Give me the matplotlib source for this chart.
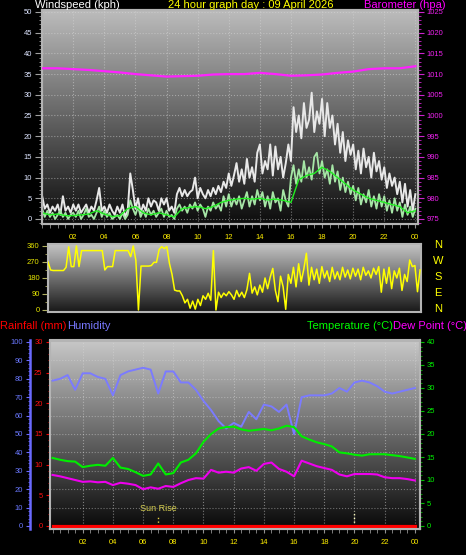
import numpy as np
import matplotlib
matplotlib.use("Agg")
from matplotlib import pyplot as plt
from matplotlib.colors import LinearSegmentedColormap
from matplotlib.ticker import MultipleLocator

plt.rcParams["font.family"] = ["Liberation Sans", "DejaVu Sans"]

# ---- data ----
# wind, every 10 minutes from 00:00 to 24:00
wind_gust = [5.5, 2.5, 3.5, 1.5, 3.0, 2.0, 3.5, 1.0, 5.5, 2.0, 3.0, 1.5,
             3.5, 2.0, 3.5, 1.5, 2.5, 3.5, 1.5, 3.0, 2.0, 4.5, 7.5, 2.0,
             3.0, 1.5, 3.5, 2.0, 1.0, 3.0, 1.5, 3.5, 0.5, 2.0, 11.0, 7.0,
             2.5, 5.0, 1.5, 3.5, 2.0, 5.0, 3.0, 4.5, 4.0, 2.0, 5.0, 3.5,
             5.0, 2.0, 3.0, 1.5, 6.0, 7.5, 5.5, 7.0, 5.5, 6.5, 7.0, 10.0,
             5.0, 7.5, 6.0, 5.0, 7.0, 5.5, 7.5, 6.0, 8.0, 6.5, 9.0, 7.5,
             11.0, 8.0, 10.5, 13.5, 9.0, 12.0, 8.5, 14.5, 10.0, 12.5, 9.0, 16.0,
             18.0, 11.0, 14.0, 12.0, 18.0, 10.5, 17.5, 12.0, 15.0, 10.0, 13.5, 18.0,
             14.0, 27.0, 21.0, 25.0, 19.5, 28.0, 22.0, 24.0, 30.5, 21.0, 26.0, 23.0,
             29.0, 20.0, 28.0, 22.0, 25.0, 18.0, 23.0, 16.0, 21.0, 14.0, 19.0, 15.5,
             18.0, 12.0, 16.5, 11.0, 17.0, 12.5, 15.0, 10.0, 16.0, 11.5, 14.0, 9.5,
             12.5, 7.5, 11.0, 8.0, 10.0, 6.0, 9.0, 4.0, 8.5, 3.0, 7.0, 2.0, 6.0]

wind_avg = [2.5, 0.5, 2.0, 0.5, 1.5, 0.0, 1.0, 2.0, 0.5, 1.5, 0.0, 1.0,
            1.5, 0.5, 2.0, 0.0, 1.0, 2.5, 0.5, 1.0, 0.0, 1.5, 3.0, 0.5,
            2.0, 0.5, 1.5, 0.0, 0.5, 1.0, 0.0, 1.5, 0.0, 1.0, 4.5, 2.5,
            1.0, 3.0, 0.5, 2.0, 0.5, 2.5, 1.0, 2.0, 0.5, 1.5, 2.5, 0.5,
            2.0, 0.5, 1.0, 0.0, 2.5, 3.5, 2.0, 3.0, 1.5, 3.5, 2.5, 4.0,
            2.0, 3.5, 2.5, 0.5, 3.0, 2.0, 4.0, 2.5, 3.5, 2.0, 5.5, 3.0,
            6.0, 3.0, 5.0, 3.5, 5.5, 2.5, 4.5, 6.5, 3.0, 5.5, 3.5, 7.0,
            4.5, 6.5, 3.0, 5.5, 2.5, 6.5, 4.0, 5.0, 2.0, 7.0, 4.5, 3.0,
            10.0, 13.0, 8.5, 12.0, 9.0, 14.0, 10.0, 12.5, 9.5, 15.0, 16.0, 11.0,
            14.0, 10.0, 12.0, 8.5, 13.0, 9.0, 11.5, 7.0, 10.0, 6.5, 9.0, 6.0,
            8.0, 4.5, 7.5, 3.5, 6.0, 4.0, 7.0, 3.0, 5.5, 2.5, 6.0, 3.0,
            5.5, 2.0, 4.5, 1.5, 5.0, 2.0, 4.0, 0.5, 3.5, 1.0, 3.0, 0.5, 2.5]

wind_dir = [270, 225, 222, 222, 222, 222, 222, 240, 355, 244, 244, 360,
            244, 334, 334, 334, 334, 334, 334, 334, 334, 334, 225, 244,
            244, 244, 334, 334, 334, 334, 334, 334, 300, 360, 280, 0,
            247, 247, 247, 247, 250, 268, 268, 340, 356, 345, 356, 262,
            200, 112, 107, 107, 80, 40, 60, 10, 50, 5, 60, 25,
            80, 60, 94, 55, 334, 0, 100, 70, 95, 80, 103, 85,
            60, 110, 75, 100, 70, 115, 206, 95, 130, 85, 140, 100,
            180, 120, 185, 234, 110, 47, 190, 130, 4, 200, 150, 240,
            130, 260, 160, 230, 319, 140, 240, 170, 230, 150, 244, 180,
            220, 160, 240, 175, 215, 170, 240, 185, 225, 175, 235, 190,
            230, 170, 240, 195, 220, 180, 235, 200, 244, 100, 230, 150,
            240, 120, 220, 180, 235, 110, 200, 160, 281, 244, 250, 103, 225]

# wind trend, every 30 minutes
wind_trend = [1.5, 1.0, 1.2, 0.8, 0.8, 1.0, 1.2, 2.0, 1.2, 0.6, 0.8, 2.5,
              3.0, 1.5, 1.0, 1.5, 1.0, 0.5, 2.5, 2.8, 3.0, 2.5, 3.0, 4.0,
              4.5, 4.8, 5.0, 4.8, 5.0, 4.6, 4.8, 4.5, 4.0, 9.5, 10.5, 11.0,
              12.5, 11.5, 10.0, 8.5, 7.0, 6.0, 5.0, 4.5, 4.0, 3.5, 3.0, 1.5, 2.0]

# barometer, hourly
pressure = [1011.4, 1011.4, 1011.2, 1011.0, 1010.7, 1010.4, 1010.0, 1009.7, 1009.4,
            1009.5, 1009.6, 1009.9, 1010.0, 1010.0, 1010.3, 1010.0, 1009.6, 1009.7,
            1009.9, 1010.3, 1010.6, 1011.2, 1011.4, 1011.4, 1011.9]

# every 30 minutes
humidity = [79, 80, 82, 74, 83, 83, 81, 80, 71, 82, 84, 85, 86, 85, 72, 84, 84,
            78, 78, 74, 68, 63, 57, 53, 56, 54, 62, 58, 66, 65, 62, 66, 50, 70,
            71, 71, 71, 72, 75, 73, 78, 79, 78, 76, 73, 72, 73, 74, 75]
temperature = [14.8, 14.4, 14.1, 14.0, 12.8, 13.1, 13.3, 13.1, 14.8, 12.7, 12.4,
               11.7, 10.9, 11.2, 13.6, 11.2, 11.5, 13.8, 14.4, 15.8, 18.3, 20.0,
               21.2, 21.5, 21.6, 21.0, 20.7, 20.9, 21.1, 20.8, 21.2, 21.8, 21.5,
               19.5, 18.8, 18.2, 17.8, 17.3, 16.0, 15.8, 15.5, 15.3, 15.6, 15.6,
               15.6, 15.4, 15.2, 14.9, 14.6]
dew_point = [11.1, 10.8, 10.4, 10.0, 9.6, 9.7, 9.5, 9.6, 8.9, 9.4, 9.2, 8.9, 8.0,
             8.4, 8.1, 8.7, 8.5, 9.3, 10.0, 10.4, 10.3, 12.2, 11.6, 11.8, 11.6,
             12.5, 12.8, 12.0, 13.5, 13.8, 12.4, 11.8, 10.8, 14.2, 13.6, 13.0,
             12.6, 12.2, 11.2, 10.8, 11.3, 11.3, 11.3, 11.2, 10.6, 10.4, 10.4,
             10.2, 9.9]
rainfall = [0.0] * 49

hour_labels = ["02", "04", "06", "08", "10", "12", "14", "16", "18", "20", "22", "00"]
sun_rise = 7.0
sun_set = 20.0

t10 = np.arange(len(wind_gust)) / 6.0
t30 = np.arange(len(humidity)) / 2.0
t60 = np.arange(len(pressure))

W, H = 466, 555


def rect(x0, y0, x1, y1):
    return [x0 / W, 1 - y1 / H, (x1 - x0) / W, (y1 - y0) / H]


def gradient(ax, top, bottom):
    cmap = LinearSegmentedColormap.from_list("bg", [bottom, top])
    g = np.linspace(0, 1, 256).reshape(-1, 1)
    ax.imshow(g, extent=[0, 1, 0, 1], transform=ax.transAxes, cmap=cmap,
              aspect="auto", origin="lower", zorder=0)


def frame(ax):
    for s in ax.spines.values():
        s.set_color("#b4b4b4")
        s.set_linewidth(1.5)


fig = plt.figure(figsize=(W / 100, H / 100), dpi=100, facecolor="black")

# ---- windspeed / barometer ----
ax_w = fig.add_axes(rect(42, 10, 418, 224))
gradient(ax_w, "#bcbcbc", "#0c0c0c")
ax_w.plot(t10, wind_gust, color="#e8e8e8", lw=1.4, zorder=3)
ax_w.plot(t10, wind_avg, color="#a6e6a6", lw=1.3, zorder=4)
ax_w.plot(t30, wind_trend, color="#22ee22", lw=1.0, zorder=5)
ax_w.set_xlim(-0.01, 24.17)
ax_w.set_ylim(-1.21, 50.48)
ax_w.set_xticks(range(2, 25, 2))
ax_w.set_xticklabels(hour_labels)
ax_w.xaxis.set_minor_locator(MultipleLocator(0.5))
ax_w.yaxis.set_major_locator(MultipleLocator(5))
ax_w.yaxis.set_minor_locator(MultipleLocator(1))
ax_w.tick_params(axis="x", which="both", colors="#909090", labelcolor="#ffee00",
                 labelsize=5.5, length=3, pad=4)
ax_w.tick_params(axis="y", which="major", colors="#a0a0a0", labelcolor="#dde4ff",
                 labelsize=5.5, length=5, pad=2)
ax_w.tick_params(axis="y", which="minor", colors="#a0a0a0", length=2.5)
ax_w.grid(True, which="major", color="#d8d8d8", linestyle=":", lw=0.8, alpha=0.5)
frame(ax_w)

ax_b = ax_w.twinx()
ax_b.plot(t60, pressure, color="#ff22ff", lw=1.6, zorder=6)
ax_b.set_ylim(973.79, 1025.48)
ax_b.yaxis.set_major_locator(MultipleLocator(5))
ax_b.yaxis.set_minor_locator(MultipleLocator(1))
ax_b.tick_params(axis="y", which="major", colors="#cc22cc", labelcolor="#ee22ee",
                 labelsize=5.5, length=4, pad=2)
ax_b.tick_params(axis="y", which="minor", colors="#cc22cc", length=2)
frame(ax_b)

# ---- wind direction ----
ax_d = fig.add_axes(rect(48, 244, 421, 311.7))
gradient(ax_d, "#c4c4c4", "#181818")
ax_d.plot(t10, wind_dir, color="#ffff00", lw=1.1, zorder=3)
ax_d.set_xlim(0, 24.06)
ax_d.set_ylim(-9.6, 371)
ax_d.set_yticks([0, 90, 180, 270, 360])
ax_d.set_xticks([])
ax_d.yaxis.set_minor_locator(MultipleLocator(45))
ax_d.tick_params(axis="y", which="major", colors="#b0b060", labelcolor="#e6e600",
                 labelsize=5.5, length=4, pad=2)
ax_d.tick_params(axis="y", which="minor", colors="#b0b060", length=2)
frame(ax_d)
for lab, yy in zip(["N", "W", "S", "E", "N"], [245, 261, 277, 293, 309]):
    fig.text(438 / W, 1 - yy / H, lab, color="#ffff00", fontsize=8,
             ha="center", va="center")

# ---- rain / humidity / temperature ----
lo, hi = -3 / 184, 185.5 / 184
ax_r = fig.add_axes(rect(49.5, 340.5, 420, 529))
gradient(ax_r, "#c8c8c8", "#080808")
ax_r.set_xlim(-0.2, 24.34)
ax_r.set_ylim(lo * 30, hi * 30)
ax_r.plot(t30, rainfall, color="#ff0000", lw=2.3, zorder=6)
ax_r.set_xticks(range(2, 25, 2))
ax_r.set_xticklabels(hour_labels)
ax_r.xaxis.set_minor_locator(MultipleLocator(0.5))
ax_r.yaxis.set_major_locator(MultipleLocator(5))
ax_r.yaxis.set_minor_locator(MultipleLocator(1))
ax_r.tick_params(axis="x", which="both", colors="#909090", labelcolor="#ffee00",
                 labelsize=5.5, length=3, pad=4)
ax_r.tick_params(axis="y", which="major", colors="#ee0000", labelcolor="#ff1010",
                 labelsize=5.5, length=3, pad=2)
ax_r.tick_params(axis="y", which="minor", colors="#ee0000", length=1.5)
ax_r.xaxis.grid(True, color="#d8d8d8", linestyle=":", lw=0.8, alpha=0.5)
for gy in range(3, 30, 3):
    ax_r.axhline(gy, color="#d8d8d8", linestyle=":", lw=0.8, alpha=0.45, zorder=1)
ax_r.plot([sun_rise, sun_rise], [0, 1.8], color="#e8d040", lw=1, linestyle=":", zorder=5)
ax_r.text(sun_rise, 2.9, "Sun Rise", color="#d8d050", fontsize=6.5,
          ha="center", va="center", zorder=5)
ax_r.plot([sun_set, sun_set], [0, 2.45], color="#ffffc0", lw=1, linestyle=":", zorder=5)
frame(ax_r)

ax_h = ax_r.twinx()
ax_h.yaxis.set_ticks_position("left")
ax_h.yaxis.set_label_position("left")
ax_h.spines["left"].set_position(("outward", 14))
ax_h.spines["left"].set_color("#6a6aff")
ax_h.spines["left"].set_linewidth(1.8)
for s in ["right", "top", "bottom"]:
    ax_h.spines[s].set_visible(False)
ax_h.plot(t30, humidity, color="#7b7bff", lw=1.4, zorder=4)
ax_h.set_ylim(lo * 100, hi * 100)
ax_h.yaxis.set_major_locator(MultipleLocator(10))
ax_h.yaxis.set_minor_locator(MultipleLocator(2))
ax_h.tick_params(axis="y", which="major", colors="#6a6aff", labelcolor="#6a78ff",
                 labelsize=5.5, length=3, pad=2)
ax_h.tick_params(axis="y", which="minor", colors="#6a6aff", length=1.5)

ax_t = ax_r.twinx()
ax_t.plot(t30, temperature, color="#00ee00", lw=1.5, zorder=5)
ax_t.plot(t30, dew_point, color="#ee00ee", lw=1.5, zorder=5)
ax_t.set_ylim(lo * 40, hi * 40)
ax_t.yaxis.set_major_locator(MultipleLocator(5))
ax_t.yaxis.set_minor_locator(MultipleLocator(1))
ax_t.tick_params(axis="y", which="major", colors="#00bb00", labelcolor="#00ee00",
                 labelsize=5.5, length=3, pad=2)
ax_t.tick_params(axis="y", which="minor", colors="#00bb00", length=1.5)
frame(ax_t)
ax_t.spines["left"].set_visible(False)

# ---- titles ----
fig.text(35 / W, 1 - 5 / H, "Windspeed (kph)", color="white", fontsize=8, ha="left", va="center")
fig.text(251 / W, 1 - 5 / H, "24 hour graph day : 09 April 2026", color="#ffff00",
         fontsize=8, ha="center", va="center")
fig.text(446 / W, 1 - 5 / H, "Barometer (hpa)", color="#ff00ff", fontsize=8, ha="right", va="center")
fig.text(0, 1 - 326 / H, "Rainfall (mm)", color="#ff0000", fontsize=8, ha="left", va="center")
fig.text(67 / W, 1 - 326 / H, "Humidity", color="#7878ff", fontsize=8, ha="left", va="center")
fig.text(393 / W, 1 - 326 / H, "Temperature (°C)", color="#00ff00", fontsize=8, ha="right", va="center")
fig.text(393 / W, 1 - 326 / H, "Dew Point (°C)", color="#ff00ff", fontsize=8, ha="left", va="center")

fig.savefig("out.png", dpi=100, facecolor="black")
